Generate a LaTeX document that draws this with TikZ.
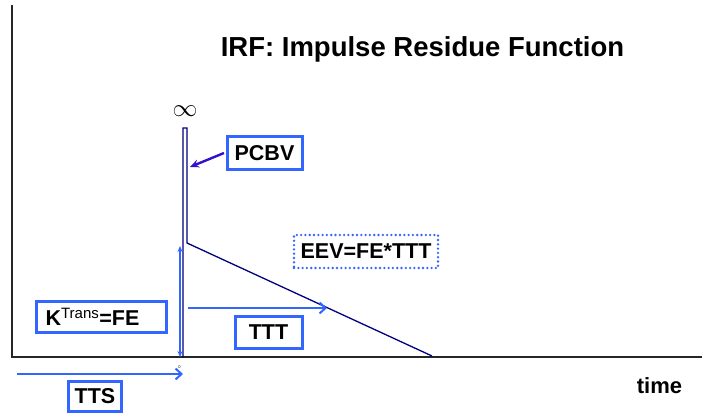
\documentclass[tikz,border=0pt]{standalone}
\usepackage{fontspec}
\setmainfont{Liberation Sans}
\usetikzlibrary{arrows.meta}
\definecolor{boxblue}{HTML}{3366FF}
\definecolor{navy}{HTML}{000080}
\definecolor{violet}{HTML}{3311CC}
\begin{document}
\begin{tikzpicture}[x=1pt,y=-1pt,
  label/.style={font=\fontsize{21.5}{25}\selectfont\bfseries, inner sep=0pt},
  labelbox/.style={label, draw=boxblue, line width=3pt, rectangle},
  dotbox/.style={label, draw=boxblue, line width=2.6pt, dash pattern=on 0pt off 4.3pt, line cap=round, rectangle},
  span/.style={draw=boxblue, line width=2pt, -{Straight Barb[length=6pt,width=11pt,line width=2pt]}},
  axis/.style={line width=2.8pt, draw=black!85}]
\useasboundingbox (0,0) rectangle (707,414);

% axes
\coordinate (O) at (12,357);
\coordinate (ytop) at (12,5);
\coordinate (xend) at (702,357);
\draw[axis, line cap=butt] (ytop) -- (O) -- (xend);

% impulse residue curve: spike, plateau drop, linear wash-out
\coordinate (s0) at (183,357);
\coordinate (s1) at (183,128);
\coordinate (s2) at (187,128);
\coordinate (s3) at (187,243);
\coordinate (s4) at (432,356);
\draw[navy, line width=1.3pt, line join=miter] (s0) -- (s1) -- (s2) -- (s3) -- (s4);

% title and axis label
\node[font=\fontsize{27.5}{32}\selectfont\bfseries, anchor=base, inner sep=0pt] (title) at (422.5,57) {IRF: Impulse Residue Function};
\node[font=\fontsize{22}{26}\selectfont\bfseries, anchor=base, inner sep=0pt] (time) at (659.5,393) {time};
\node[font=\fontsize{25}{30}\selectfont, inner sep=0pt] (inf) at (185,111) {$\infty$};
\node[font=\fontsize{4}{5}\selectfont, inner sep=0pt] (zero) at (179.5,367) {0};

% labelled boxes
\node[labelbox, minimum width=75pt, minimum height=33pt] (pcbv) at (264.5,153.5) {PCBV};
\node[labelbox, minimum width=130pt, minimum height=31pt] (ktrans) at (101.5,317) {K\textsuperscript{\fontsize{15}{17}\selectfont\mdseries Trans}=FE\hspace*{18pt}};
\node[labelbox, minimum width=67pt, minimum height=32pt] (ttt) at (268.5,332) {TTT};
\node[labelbox, minimum width=53pt, minimum height=30pt] (tts) at (95,396.5) {TTS};
\node[dotbox, minimum width=144pt, minimum height=33pt] (eev) at (366,251.5) {EEV=FE*TTT};

% arrows
\coordinate (pa) at (224,153);
\coordinate (pb) at (190,167);
\draw[violet, line width=2.4pt, -{Stealth[length=9pt,width=8pt]}] (pa) -- (pb);

\coordinate (ka) at (180,246);
\coordinate (kb) at (180,357);
\draw[boxblue, line width=1.4pt, {Stealth[length=6pt,width=5pt]}-{Stealth[length=6pt,width=5pt]}] (ka) -- (kb);

\coordinate (ta) at (188,308);
\coordinate (tb) at (327,308);
\draw[span] (ta) -- (tb);

\coordinate (sa) at (17,374);
\coordinate (sb) at (183,374);
\draw[span] (sa) -- (sb);
\end{tikzpicture}
\end{document}
